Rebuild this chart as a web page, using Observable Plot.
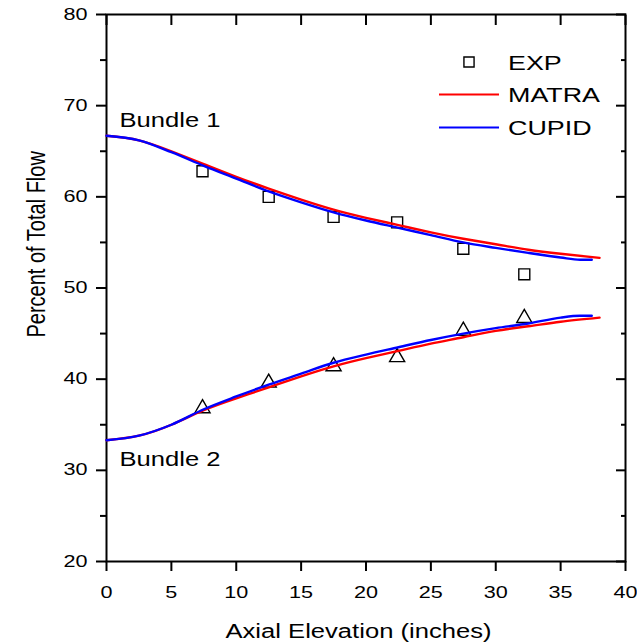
<!DOCTYPE html>
<html>
<head>
<meta charset="utf-8">
<script src="https://cdn.jsdelivr.net/npm/d3@7"></script>
<script src="https://cdn.jsdelivr.net/npm/@observablehq/plot@0.6"></script>
<style>
  body { margin: 0; background: #fff; }
  #chart svg { display: block; }
</style>
</head>
<body>
<div id="chart"></div>
<script>
// Axis ticks
const xTicks = [0, 5, 10, 15, 20, 25, 30, 35, 40];
const yTicks = [20, 30, 40, 50, 60, 70, 80];
const yMinorTicks = [25, 35, 45, 55, 65, 75];

// Measured flow split (percent of total flow) vs axial elevation (inches)
const expElevation = [7.4, 12.5, 17.5, 22.4, 27.5, 32.2];
const expBundle1 = [62.8, 60.0, 57.8, 57.2, 54.3, 51.5];
const expBundle2 = [36.8, 39.6, 41.4, 42.4, 45.3, 46.7];

// MATRA prediction
const matraElevation = [0, 2.5, 5, 7.5, 10, 12.5, 15, 17.5, 20, 22.5, 25, 27.5, 30, 32.5, 35, 38];
const matraBundle1 = [66.7, 66.2, 65.0, 63.6, 62.2, 60.9, 59.7, 58.6, 57.7, 56.9, 56.1, 55.4, 54.8, 54.2, 53.75, 53.3];
const matraBundle2 = [33.3, 33.8, 35.0, 36.6, 37.9, 39.1, 40.3, 41.4, 42.3, 43.1, 43.9, 44.6, 45.3, 45.8, 46.3, 46.75];

// CUPID prediction
const cupidElevation = [0, 2.5, 5, 7.5, 10, 12.5, 15, 17.5, 20, 22.5, 25, 27.5, 30, 32.5, 35, 36.5, 37.4];
const cupidBundle1 = [66.7, 66.2, 64.9, 63.4, 62.0, 60.6, 59.4, 58.3, 57.4, 56.6, 55.8, 55.0, 54.4, 53.85, 53.35, 53.1, 53.1];
const cupidBundle2 = [33.3, 33.8, 35.0, 36.7, 38.1, 39.4, 40.6, 41.8, 42.7, 43.5, 44.3, 45.0, 45.6, 46.1, 46.75, 46.95, 46.95];

const bundleLabels = ["Bundle 1", "Bundle 2"];
const legendLabels = ["EXP", "MATRA", "CUPID"];
const xTitle = "Axial Elevation (inches)";
const yTitle = "Percent of Total Flow";

const RED = "#ff0000";
const BLUE = "#0000ff";
const FONT = "'Liberation Sans', Arial, Helvetica, sans-serif";
const noText = () => "";

const chart = Plot.plot({
  width: 637,
  height: 644,
  marginLeft: 106,
  marginRight: 12,
  marginTop: 14,
  marginBottom: 83,
  style: {fontFamily: FONT, fontSize: "16px", color: "black", background: "white"},
  x: {domain: [0, 40]},
  y: {domain: [20, 80]},
  marks: [
    // axes: outward ticks left/bottom, inward mirror ticks top/right
    Plot.axisX({ticks: xTicks, anchor: "bottom", tickSize: 10, tickPadding: 15, strokeWidth: 2, fontSize: 16, label: null}),
    Plot.axisX({ticks: xTicks, anchor: "top", tickSize: 10, dy: 10, strokeWidth: 2, tickFormat: noText, label: null}),
    Plot.axisY({ticks: yTicks, anchor: "left", tickSize: 10, tickPadding: 9, strokeWidth: 2, fontSize: 16, label: null}),
    Plot.axisY({ticks: yMinorTicks, anchor: "left", tickSize: 6, strokeWidth: 2, tickFormat: noText, label: null}),
    Plot.axisY({ticks: yTicks, anchor: "right", tickSize: 10, dx: -10, strokeWidth: 2, tickFormat: noText, label: null}),
    Plot.axisY({ticks: yMinorTicks, anchor: "right", tickSize: 5, dx: -5, strokeWidth: 2, tickFormat: noText, label: null}),
    Plot.frame({stroke: "black", strokeWidth: 2}),

    // experimental points
    Plot.dot(expElevation, {x: expElevation, y: expBundle1, symbol: d3.symbolSquare, r: 6.2, stroke: "black", strokeWidth: 1.4, fill: "none"}),
    Plot.dot(expElevation, {x: expElevation, y: expBundle2, symbol: d3.symbolTriangle, r: 5.6, stroke: "black", strokeWidth: 1.4, fill: "none"}),

    // code predictions
    Plot.line(matraElevation, {x: matraElevation, y: matraBundle1, stroke: RED, strokeWidth: 2.4, curve: "natural"}),
    Plot.line(matraElevation, {x: matraElevation, y: matraBundle2, stroke: RED, strokeWidth: 2.4, curve: "natural"}),
    Plot.line(cupidElevation, {x: cupidElevation, y: cupidBundle1, stroke: BLUE, strokeWidth: 2.4, curve: "monotone-x"}),
    Plot.line(cupidElevation, {x: cupidElevation, y: cupidBundle2, stroke: BLUE, strokeWidth: 2.4, curve: "monotone-x"}),

    // bundle annotations
    Plot.text([bundleLabels[0]], {frameAnchor: "top-left", textAnchor: "start", dx: 13, dy: 98.5, fontSize: 20, fill: "black"}),
    Plot.text([bundleLabels[1]], {frameAnchor: "top-left", textAnchor: "start", dx: 13, dy: 437.5, fontSize: 20, fill: "black"}),

    // axis titles
    Plot.text([xTitle], {frameAnchor: "bottom", dx: -7.5, dy: 76, fontSize: 20, fill: "black"}),
    Plot.text([yTitle], {frameAnchor: "left", rotate: -90, dx: -73, dy: 49.5, fontSize: 20, fill: "black"})
  ]
});

document.getElementById("chart").appendChild(chart);

// legend in the upper right of the plot area
const svg = d3.select(chart);
const legend = svg.append("g").attr("font-family", FONT).attr("font-size", 21).attr("fill", "black");
const rowY = [62, 94.5, 127.5];
legend.append("path")
  .attr("d", d3.symbol(d3.symbolSquare, Math.PI * 6.2 * 6.2 * 0.85)())
  .attr("transform", `translate(469,${rowY[0]})`)
  .attr("fill", "none").attr("stroke", "black").attr("stroke-width", 1.4);
[[RED, rowY[1]], [BLUE, rowY[2]]].forEach(([c, y]) => {
  legend.append("line").attr("x1", 439).attr("x2", 499).attr("y1", y).attr("y2", y)
    .attr("stroke", c).attr("stroke-width", 2);
});
legendLabels.forEach((t, i) => {
  legend.append("text").attr("x", 508).attr("y", rowY[i]).attr("dy", "0.36em")
    .attr("text-anchor", "start").text(t);
});

// widen the lettering horizontally, keeping each label's anchor in place
const NS = "http://www.w3.org/2000/svg";
chart.querySelectorAll("text").forEach(t => {
  if (!t.textContent.trim()) return;
  const holder = t.closest("[text-anchor]");
  const anchor = t.getAttribute("text-anchor") || (holder ? holder.getAttribute("text-anchor") : "middle");
  const inTicks = !!t.closest('[aria-label$="tick label"]');
  const k = inTicks ? 1.35 : 1.28;
  const g = document.createElementNS(NS, "g");
  t.parentNode.insertBefore(g, t);
  g.appendChild(t);
  const b = g.getBBox();
  const ax = anchor === "end" ? b.x + b.width : anchor === "start" ? b.x : b.x + b.width / 2;
  g.setAttribute("transform", `translate(${ax},0) scale(${k},1) translate(${-ax},0)`);
});
</script>
</body>
</html>
